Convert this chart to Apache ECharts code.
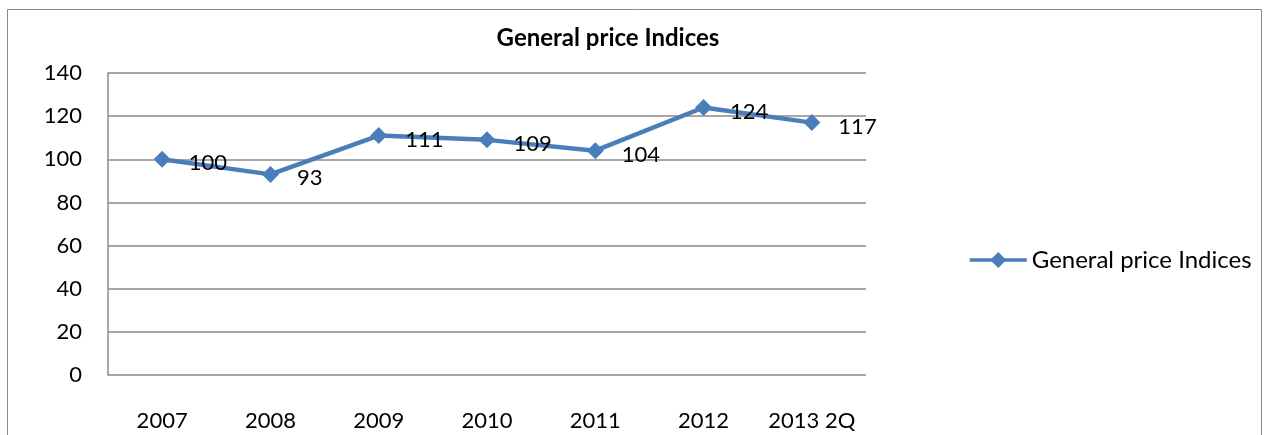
<!DOCTYPE html>
<html><head><meta charset="utf-8">
<script src="https://cdn.jsdelivr.net/npm/echarts@6/dist/echarts.min.js"></script>
<style>html,body{margin:0;padding:0;background:#fff}#c{width:1267px;height:435px}</style>
</head><body><div id="c"></div>
<script>
const categories = ['2007','2008','2009','2010','2011','2012','2013 2Q'];
const values = [100, 93, 111, 109, 104, 124, 117];
const seriesName = 'General price Indices';
const titleText = 'General price Indices';

const font = 'Lato, "Open Sans", sans-serif';
const chart = echarts.init(document.getElementById('c'), null, {renderer:'canvas'});
chart.setOption({
  backgroundColor:'#fff',
  animation:false,
  graphic:[{type:'rect', shape:{x:7.5,y:9.5,width:1254,height:440}, style:{fill:'none',stroke:'#8a8a8a',lineWidth:1}, silent:true}],
  title:{text:titleText, left:603, top:21, textAlign:'center',
    textStyle:{fontFamily:font, fontWeight:'bold', fontSize:24, color:'#000'}},
  legend:{data:[{name:seriesName}], orient:'vertical', left:963, top:243,
    itemWidth:57, itemHeight:20, itemGap:10,
    lineStyle:{width:3.5},
    textStyle:{fontFamily:font, fontSize:24, color:'#000'}},
  grid:{left:108, top:73, right:401, bottom:60, containLabel:false},
  xAxis:{type:'category', data:categories, boundaryGap:true,
    axisLine:{show:false}, axisTick:{show:false},
    axisLabel:{fontFamily:font, fontSize:22, color:'#000', margin:35, interval:0}},
  yAxis:{type:'value', min:0, max:140, interval:20,
    axisLine:{show:true, lineStyle:{color:'#8a8a8a', width:1.5}}, axisTick:{show:false},
    splitLine:{show:true, lineStyle:{color:'#8a8a8a', width:1.5}},
    axisLabel:{fontFamily:font, fontSize:22, color:'#000', margin:26}},
  series:[{name:seriesName, type:'line', data:values,
    symbol:'diamond', symbolSize:17,
    lineStyle:{color:'#4a7ebb', width:4.5},
    itemStyle:{color:'#4a7ebb'},
    label:{show:true, position:'right', distance:18, offset:[0,4],
      fontFamily:font, fontSize:22, color:'#000'}}]
});
</script></body></html>
